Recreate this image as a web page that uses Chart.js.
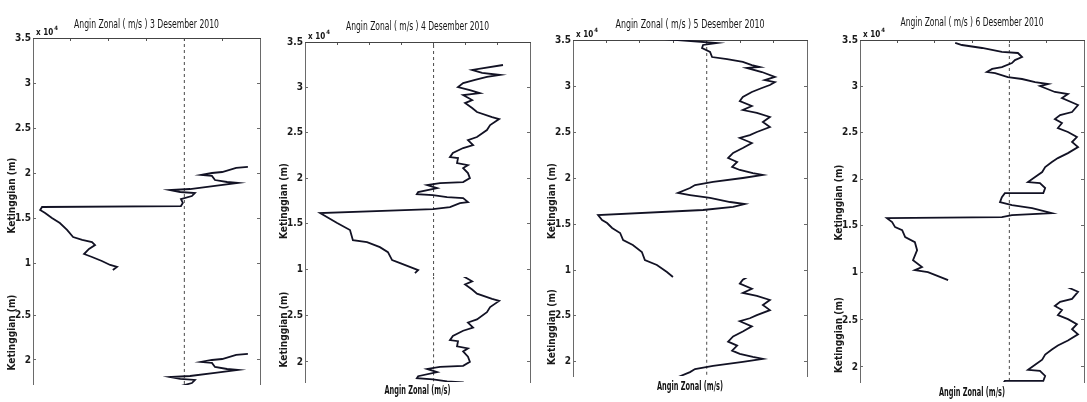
<!DOCTYPE html>
<html>
<head>
<meta charset="utf-8">
<script src="https://cdn.jsdelivr.net/npm/chart.js@4.4.1/dist/chart.umd.min.js"></script>
<style>
  html, body { margin: 0; padding: 0; background: #fff; overflow: hidden; }
  #wrap { position: relative; width: 1087px; height: 402px; }
  #wrap canvas { position: absolute; }
</style>
</head>
<body>
<div id="wrap"></div>
<script>
// zonal wind (m/s) against height (m)
const dates = ["3 Desember 2010", "4 Desember 2010", "5 Desember 2010", "6 Desember 2010"];

const zonal3 = [16.8, 13.7, 10.0, 7.3, 4.4, 7.3, 8.1, 11.3, 14.2, 8.1, 1.5, -3.8, -1.1, 2.8, 2.0, -0.9, -0.4, -0.9, -37.6, -38.1,
  -36.8, -35.0, -32.9, -31.0, -29.4, -27.0, -24.4, -23.6, -25.2, -26.5, -24.4, -21.8, -19.6, -17.8, -18.9];
const height3 = [20670, 20560, 20110, 20000, 19780, 19670, 19220, 19000, 18890, 18560, 18220, 18110, 17890, 17780, 17440, 17110, 16670, 16330, 16220, 15890,
  15560, 15000, 14440, 13670, 12890, 12560, 12330, 12000, 11560, 11000, 10670, 10220, 9780, 9560, 9220];

const zonal4 = [21.6, 12.0, 15.1, 20.7, 16.6, 12.9, 9.2, 7.6, 11.3, 14.4, 9.2, 12.0, 9.8, 12.0, 13.5, 18.2, 20.4, 17.6, 16.6, 13.5,
  10.7, 12.3, 9.2, 6.0, 5.1, 7.6, 7.3, 10.7, 9.2, 10.7, 11.3, 9.2, 2.0, -2.0, 1.1, -4.8, -5.2, -0.2, 4.2, 9.2,
  10.7, 8.2, 5.1, -0.2, -35.3, -33.2, -30.0, -26.0, -25.1, -20.7, -16.7, -14.2, -12.9, -10.4, -6.4, -4.8, -5.8];
const height4 = [32470, 31920, 31590, 31370, 31150, 30820, 30480, 30040, 29710, 29380, 29160, 28610, 28280, 27730, 27290, 26740, 26520, 25860, 25310, 24540,
  24210, 23660, 23330, 22780, 22330, 22220, 21670, 21450, 21120, 20570, 20020, 19580, 19470, 19250, 18920, 18480, 18260, 18150, 17930, 17820,
  17380, 17270, 16830, 16610, 16170, 15730, 15070, 14300, 13190, 12970, 12420, 11870, 10990, 10660, 10110, 9890, 9560];

const zonal5 = [-13.1, 3.1, -1.1, -1.4, 1.0, 1.6, 6.1, 10.8, 13.5, 15.9, 12.0, 16.5, 20.4, 17.4, 20.4, 18.9, 16.5, 13.5, 10.8, 9.9,
  13.5, 10.8, 15.0, 18.9, 16.8, 18.9, 15.0, 12.9, 9.9, 13.5, 10.8, 7.9, 6.4, 9.1, 7.6, 9.9, 13.8, 16.8, 10.8, 1.9,
  -3.5, -5.0, -8.6, -5.0, 1.0, 7.0, 11.4, 7.9, -1.1, -32.5, -31.3, -29.8, -28.3, -25.9, -25.0, -22.1, -19.4, -18.5, -14.9, -11.9, -10.1];
const height5 = [35110, 34670, 34460, 34130, 33700, 33150, 32930, 32610, 32280, 32070, 31960, 31520, 30980, 30650, 30430, 30110, 29780, 29350, 28800, 28370,
  27830, 27390, 27070, 26630, 26090, 25540, 25000, 24670, 24350, 23800, 23260, 22720, 22170, 21740, 21200, 20870, 20540, 20330, 20000, 19570,
  19240, 18910, 18370, 18150, 17830, 17390, 17170, 16850, 16520, 15980, 15430, 15110, 14570, 14020, 13260, 12720, 11960, 11090, 10540, 9780, 9240];

const zonal6 = [-14.5, -12.7, -7.3, -2.0, 2.3, 3.4, 1.5, 0.7, -2.0, -4.6, -6.0, -3.8, -0.4, 3.4, 6.9, 10.4, 8.2, 12.2, 15.7, 14.1,
  18.4, 16.8, 13.6, 12.2, 14.1, 13.0, 15.7, 18.1, 16.8, 18.4, 15.7, 13.0, 11.4, 9.6, 8.8, 6.9, 5.0, 8.2, 9.6, 9.1,
  -1.2, -2.0, -2.5, 0.7, 6.1, 11.4, 0.7, -2.0, -32.8, -31.4, -30.6, -28.7, -27.9, -25.3, -24.7, -25.8, -23.4, -25.3, -21.8, -19.1, -16.4];
const height6 = [34680, 34460, 34140, 33710, 33600, 33170, 32840, 32520, 32090, 31880, 31550, 31440, 31010, 30800, 30470, 30260, 30040, 29400, 29180, 28750,
  28000, 27240, 26920, 26490, 26060, 25520, 25090, 24550, 24010, 23470, 22820, 22280, 21850, 21310, 20780, 20240, 19700, 19590, 19050, 18510,
  18510, 18070, 17540, 17220, 16900, 16360, 16140, 15930, 15820, 15390, 14850, 14530, 13770, 13230, 12370, 11290, 10540, 10220, 10000, 9570, 9140];

const windAxisMin = [-40, -40, -40, -40];
const windAxisMax = [20, 30, 30, 20];
const windTicks = [-40, -30, -20, -10, 0, 10, 20, 30];
const heightTicks = [10000, 15000, 20000, 25000, 30000, 35000];

// dashed u = 0 reference line
const zeroWind = [0, 0];
const zeroHeight = [0, 35000];

// the scan shows each figure twice: the full profile on top and a second,
// cropped copy of the 1.8-2.9 x10^4 m band underneath
const profiles = [[zonal3, height3], [zonal4, height4], [zonal5, height5], [zonal6, height6]];
const lowRange = [[17220, 28890], [17860, 29070], [18490, 28980], [18400, 28400]];

const panels = [
  { left: 33,  right: 260,  top: 38, px: 90,   titleY: 25, titleW: 145, low: { top: 280, bottom: 385, label: false, dy: 11 } },
  { left: 305, right: 530,  top: 42, px: 90.8, titleY: 27, titleW: 143, low: { top: 277, bottom: 382, label: true,  dy: 9 } },
  { left: 573, right: 807,  top: 40, px: 92,   titleY: 25, titleW: 149, low: { top: 278, bottom: 376, label: true,  dy: 11 } },
  { left: 860, right: 1084, top: 40, px: 92.8, titleY: 23, titleW: 143, low: { top: 288, bottom: 382, label: true,  dy: 11 } },
];

const font = "'Liberation Sans Narrow', 'DejaVu Sans Condensed', sans-serif";
const lineColor = "#121224";
const axisColor = "#6a6a6a";
const yAxisWidth = 33;

const wrap = document.getElementById("wrap");

// condensed labels as in the scan (title, x label, exponent)
const labelPlugin = {
  id: "labels",
  afterDraw(chart, args, opts) {
    const { ctx, chartArea } = chart;
    const cx = (chartArea.left + chartArea.right) / 2;
    ctx.save();
    ctx.fillStyle = "#141414";
    ctx.textBaseline = "middle";
    ctx.textAlign = "center";
    const squeezed = (text, x, y, f, width) => {
      ctx.font = f;
      const w = ctx.measureText(text).width;
      ctx.save();
      ctx.translate(x, y);
      ctx.scale(Math.min(1, width / w), 1);
      ctx.fillText(text, 0, 0);
      ctx.restore();
    };
    if (opts.title) {
      squeezed(opts.title, cx, opts.titleY, "13px " + font, opts.titleW);
      ctx.textAlign = "left";
      ctx.textBaseline = "alphabetic";
      ctx.font = "bold 8px " + font;
      ctx.fillText("x 10", chartArea.left + 3, chartArea.top - 3);
      const w = ctx.measureText("x 10").width;
      ctx.font = "bold 6px " + font;
      ctx.fillText("4", chartArea.left + 4 + w, chartArea.top - 8);
      ctx.textAlign = "center";
      ctx.textBaseline = "middle";
    }
    if (opts.xLabel) {
      squeezed(opts.xLabel, cx, chartArea.bottom + opts.dy, "bold 12px " + font, 66);
    }
    ctx.restore();
  },
};

function addCanvas(x, y, w, h) {
  const c = document.createElement("canvas");
  c.width = w;
  c.height = h;
  c.style.left = x + "px";
  c.style.top = y + "px";
  wrap.appendChild(c);
  return c;
}

const setHeightTicks = (s) => {
  s.ticks = heightTicks.filter((v) => v >= s.min && v <= s.max).map((v) => ({ value: v }));
};
const setWindTicks = (s) => {
  s.ticks = windTicks.filter((v) => v >= s.min && v <= s.max).map((v) => ({ value: v }));
};
// fixed axis boxes, no extra room for half tick labels
const fixWidth = (w) => (s) => {
  s.width = w;
  s.paddingTop = 0;
  s.paddingBottom = 0;
};
const fixHeight = (h) => (s) => {
  s.height = h;
  s.paddingLeft = 0;
  s.paddingRight = 0;
};

function makeChart(canvas, i, yMin, yMax, upper, padTop, padBottom) {
  const [zonal, height] = profiles[i];
  const points = zonal.map((u, k) => ({ x: u, y: height[k] }));
  const zero = zeroWind.map((u, k) => ({ x: u, y: zeroHeight[k] }));
  const p = panels[i];

  const scales = {
    x: {
      type: "linear",
      min: windAxisMin[i],
      max: windAxisMax[i],
      afterBuildTicks: setWindTicks,
      ticks: { display: false },
      border: { display: false },
      grid: { display: false },
      afterFit: fixHeight(0),
    },
    y: {
      type: "linear",
      position: "left",
      min: yMin,
      max: yMax,
      afterBuildTicks: setHeightTicks,
      ticks: {
        autoSkip: false,
        padding: 5,
        color: "#1a1a1a",
        font: { family: font, size: 10, weight: "bold" },
        callback: (v) => String(v / 10000),
      },
      grid: { drawOnChartArea: false, drawTicks: true, tickLength: -3, tickColor: axisColor },
      border: { display: true, color: axisColor, width: 1 },
      title: {
        display: true,
        text: "Ketinggian (m)",
        color: "#1a1a1a",
        font: { family: font, size: 10, weight: "bold" },
        padding: { top: 6, bottom: 0 },
      },
      afterFit: fixWidth(yAxisWidth),
    },
    y2: {
      type: "linear",
      position: "right",
      min: yMin,
      max: yMax,
      afterBuildTicks: setHeightTicks,
      ticks: { display: false },
      grid: { drawOnChartArea: false, drawTicks: true, tickLength: -3, tickColor: axisColor },
      border: { display: true, color: axisColor, width: 1 },
      afterFit: fixWidth(0),
    },
  };
  if (upper) {
    scales.x2 = {
      type: "linear",
      position: "top",
      min: windAxisMin[i],
      max: windAxisMax[i],
      afterBuildTicks: setWindTicks,
      ticks: { display: false },
      grid: { drawOnChartArea: false, drawTicks: true, tickLength: -3, tickColor: "#555" },
      border: { display: true, color: "#444", width: 1 },
      afterFit: fixHeight(0),
    };
  }

  return new Chart(canvas, {
    type: "scatter",
    data: {
      datasets: [
        {
          data: points,
          showLine: true,
          borderColor: lineColor,
          borderWidth: 1.8,
          pointRadius: 0,
          tension: 0,
        },
        {
          data: zero,
          showLine: true,
          borderColor: "#4a4a4a",
          borderWidth: 1,
          borderDash: [3, 3],
          pointRadius: 0,
        },
      ],
    },
    options: {
      responsive: false,
      animation: false,
      devicePixelRatio: 1,
      layout: { padding: { left: 0, right: 2, top: padTop, bottom: padBottom } },
      plugins: {
        legend: { display: false },
        tooltip: { enabled: false },
        labels: {
          title: upper ? "Angin Zonal ( m/s ) " + dates[i] : null,
          titleY: p.titleY,
          titleW: p.titleW,
          xLabel: !upper && p.low.label ? "Angin Zonal (m/s)" : null,
          dy: p.low.dy,
        },
      },
      scales,
    },
    plugins: [labelPlugin],
  });
}

panels.forEach((p, i) => {
  const x0 = p.left - yAxisWidth;
  const w = p.right - x0 + 2;

  // full profile; the axis runs down to 0 so the height label sits where the scan has it,
  // and everything under the top of the cropped copy is hidden
  const upChartBottom = Math.round(p.top + 3.5 * p.px);
  const up = addCanvas(x0, 0, w, upChartBottom);
  up.style.clipPath = "inset(0 0 " + (upChartBottom - p.low.top) + "px 0)";
  makeChart(up, i, 0, 35000, true, p.top, 0);

  // cropped copy underneath
  const pad = p.low.label ? 18 : 0;
  const lo = addCanvas(x0, p.low.top, w, p.low.bottom - p.low.top + pad);
  makeChart(lo, i, lowRange[i][0], lowRange[i][1], false, 0, pad);
});
</script>
</body>
</html>
